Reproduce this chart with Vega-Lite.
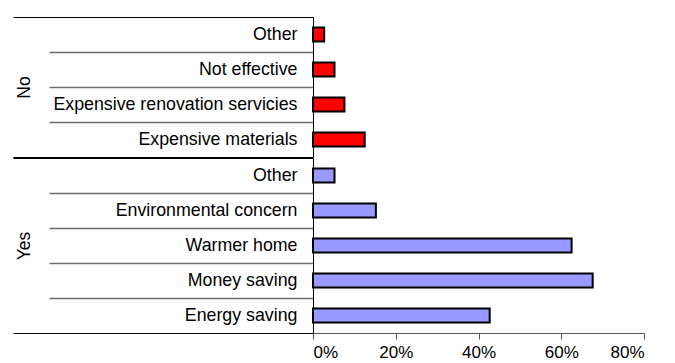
{
  "$schema": "https://vega.github.io/schema/vega-lite/v6.json",
  "padding": {"left": 12, "top": 16, "right": 5, "bottom": 0},
  "config": {
    "font": "Liberation Sans",
    "view": {"stroke": null},
    "concat": {"spacing": -3},
    "axis": {"labelColor": "#000", "titleColor": "#000", "domainColor": "#000", "tickColor": "#000"}
  },
  "data": {
    "values": [
      {"group": "No", "reason": "Other", "key": "No|Other", "share": 0.027},
      {"group": "No", "reason": "Not effective", "key": "No|Not effective", "share": 0.052},
      {"group": "No", "reason": "Expensive renovation servicies", "key": "No|Expensive renovation servicies", "share": 0.076},
      {"group": "No", "reason": "Expensive materials", "key": "No|Expensive materials", "share": 0.125},
      {"group": "Yes", "reason": "Other", "key": "Yes|Other", "share": 0.052},
      {"group": "Yes", "reason": "Environmental concern", "key": "Yes|Environmental concern", "share": 0.152},
      {"group": "Yes", "reason": "Warmer home", "key": "Yes|Warmer home", "share": 0.625},
      {"group": "Yes", "reason": "Money saving", "key": "Yes|Money saving", "share": 0.676},
      {"group": "Yes", "reason": "Energy saving", "key": "Yes|Energy saving", "share": 0.427}
    ]
  },
  "vconcat": [
    {
      "width": 331,
      "height": 140,
      "transform": [{"filter": "datum.group === 'No'"}],
      "mark": {"type": "bar", "color": "#ff0000", "stroke": "#000", "strokeWidth": 2, "height": {"band": 0.4}},
      "encoding": {
        "y": {
          "field": "key", "type": "nominal", "sort": null,
          "scale": {"paddingInner": 0, "paddingOuter": 0},
          "axis": {
            "title": "No", "titleX": -280, "titleFontSize": 17.5, "titleFontWeight": "normal",
            "tickBand": "extent",
            "tickSize": {"condition": {"test": "datum.label === '' || datum.value === 'No|Expensive materials'", "value": 300}, "value": 264},
            "tickColor": {"condition": {"test": "datum.label === '' || datum.value === 'No|Expensive materials'", "value": "#000"}, "value": "#6e6e6e"},
            "tickWidth": {"condition": {"test": "datum.label === '' || datum.value === 'No|Expensive materials'", "value": 1}, "value": 1.5},
            "labelPadding": {"condition": {"test": "datum.label === '' || datum.value === 'No|Expensive materials'", "value": -284}, "value": -248},
            "labelFontSize": {"condition": {"test": "datum.label === ''", "value": 0}, "value": 17.8},
            "labelExpr": "split(datum.value, '|')[1]",
            "labelLimit": 400
          }
        },
        "x": {"field": "share", "type": "quantitative", "scale": {"domain": [0, 0.8]}, "axis": null}
      }
    },
    {
      "width": 331,
      "height": 175,
      "transform": [{"filter": "datum.group === 'Yes'"}],
      "mark": {"type": "bar", "color": "#9999ff", "stroke": "#000", "strokeWidth": 2, "height": {"band": 0.4}},
      "encoding": {
        "y": {
          "field": "key", "type": "nominal", "sort": null,
          "scale": {"paddingInner": 0, "paddingOuter": 0},
          "axis": {
            "title": "Yes", "titleX": -280, "titleFontSize": 17.5, "titleFontWeight": "normal",
            "tickBand": "extent",
            "tickSize": {"condition": {"test": "datum.label === '' || datum.value === 'Yes|Energy saving'", "value": 300}, "value": 264},
            "tickColor": {"condition": {"test": "datum.label === '' || datum.value === 'Yes|Energy saving'", "value": "#000"}, "value": "#6e6e6e"},
            "tickWidth": {"condition": {"test": "datum.label === '' || datum.value === 'Yes|Energy saving'", "value": 1}, "value": 1.5},
            "labelPadding": {"condition": {"test": "datum.label === '' || datum.value === 'Yes|Energy saving'", "value": -284}, "value": -248},
            "labelFontSize": {"condition": {"test": "datum.label === ''", "value": 0}, "value": 17.8},
            "labelExpr": "split(datum.value, '|')[1]",
            "labelLimit": 400
          }
        },
        "x": {
          "field": "share", "type": "quantitative", "scale": {"domain": [0, 0.8]},
          "axis": {"title": null, "format": ".0%", "values": [0, 0.2, 0.4, 0.6, 0.8], "grid": false, "tickSize": 6, "labelPadding": 5, "labelFontSize": 17, "domainColor": "#555", "tickColor": "#555"}
        }
      }
    }
  ]
}
